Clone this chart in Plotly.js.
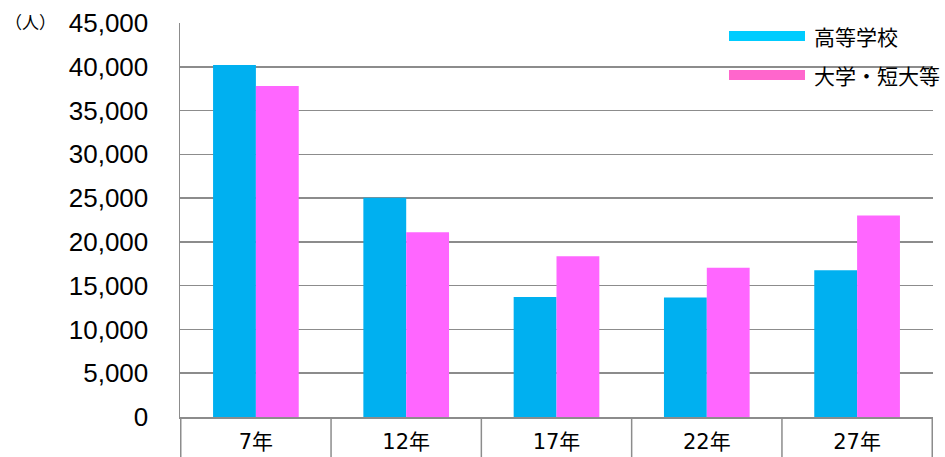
<!DOCTYPE html>
<html><head><meta charset="utf-8">
<script src="https://cdn.plot.ly/plotly-3.0.1.min.js"></script>
<style>html,body{margin:0;padding:0;background:#fff}#c{width:945px;height:457px}</style>
</head><body><div id="c"></div>
<script>
var categories = ["7年", "12年", "17年", "22年", "27年"];
var seriesNames = ["高等学校", "大学・短大等"];
var highSchool = [40200, 25050, 13700, 13650, 16750];
var university = [37800, 21100, 18350, 17050, 23000];
var yTicks = [0, 5000, 10000, 15000, 20000, 25000, 30000, 35000, 40000, 45000];
var barColors = ["#00B0F0", "#FF66FF"];
var legendColors = ["#00CCFF", "#FF66CC"];

var traces = [
  {type: "bar", x: categories, y: highSchool, name: seriesNames[0], marker: {color: barColors[0]}, showlegend: false, hoverinfo: "none"},
  {type: "bar", x: categories, y: university, name: seriesNames[1], marker: {color: barColors[1]}, showlegend: false, hoverinfo: "none"}
];

var W = 753, H = 394, L = 180, T = 23;
var shapes = [
  {type: "rect", xref: "paper", yref: "paper", x0: (707 - L) / W, x1: 1.0, y0: 0.80, y1: 1.02, fillcolor: "#fff", line: {width: 0}, layer: "between"}
];
// category separators of the table below the axis
for (var k = 0; k <= categories.length; k++) {
  shapes.push({type: "line", xref: "x", yref: "paper", x0: k - 0.5, x1: k - 0.5, y0: 0, y1: -0.12, line: {color: "#8c8c8c", width: 1.5}});
}
var annotations = [
  {text: "（人）", xref: "paper", yref: "paper", x: (3 - L) / W, y: 1 - (21 - T) / H, xanchor: "left", yanchor: "middle", showarrow: false, font: {family: "Noto Sans CJK JP", size: 17, color: "#000"}}
];
var legY = [36, 75];
for (var i = 0; i < seriesNames.length; i++) {
  var yp = 1 - (legY[i] - T) / H;
  shapes.push({type: "line", xref: "paper", yref: "paper", x0: (729 - L) / W, x1: (805 - L) / W, y0: yp, y1: yp, line: {color: legendColors[i], width: 10}});
  annotations.push({text: seriesNames[i], xref: "paper", yref: "paper", x: (812 - L) / W, y: yp, xanchor: "left", yanchor: "middle", showarrow: false, font: {family: "Noto Sans CJK JP", size: 21, color: "#000"}});
}

var layout = {
  width: 945, height: 457,
  margin: {l: L, r: 12, t: T, b: 40, pad: 0},
  paper_bgcolor: "#fff", plot_bgcolor: "#fff",
  barmode: "group", bargap: 0.43, bargroupgap: 0,
  showlegend: false,
  xaxis: {
    type: "category", ticks: "", showline: true, linecolor: "#8c8c8c", linewidth: 1.5, showgrid: false, zeroline: false,
    tickfont: {family: "DejaVu Sans, Noto Sans CJK JP", size: 21, color: "#000"}, ticklabelstandoff: 5
  },
  yaxis: {
    range: [0, 45000], tickvals: yTicks, tickformat: ",", showgrid: true, gridcolor: "#8c8c8c", gridwidth: 1.5,
    showline: true, linecolor: "#8c8c8c", linewidth: 1.5, zeroline: false, ticks: "",
    tickfont: {family: "Liberation Sans", size: 26, color: "#000"}, ticklabelstandoff: 25
  },
  shapes: shapes,
  annotations: annotations
};
Plotly.newPlot("c", traces, layout, {displayModeBar: false, staticPlot: true});
</script></body></html>
